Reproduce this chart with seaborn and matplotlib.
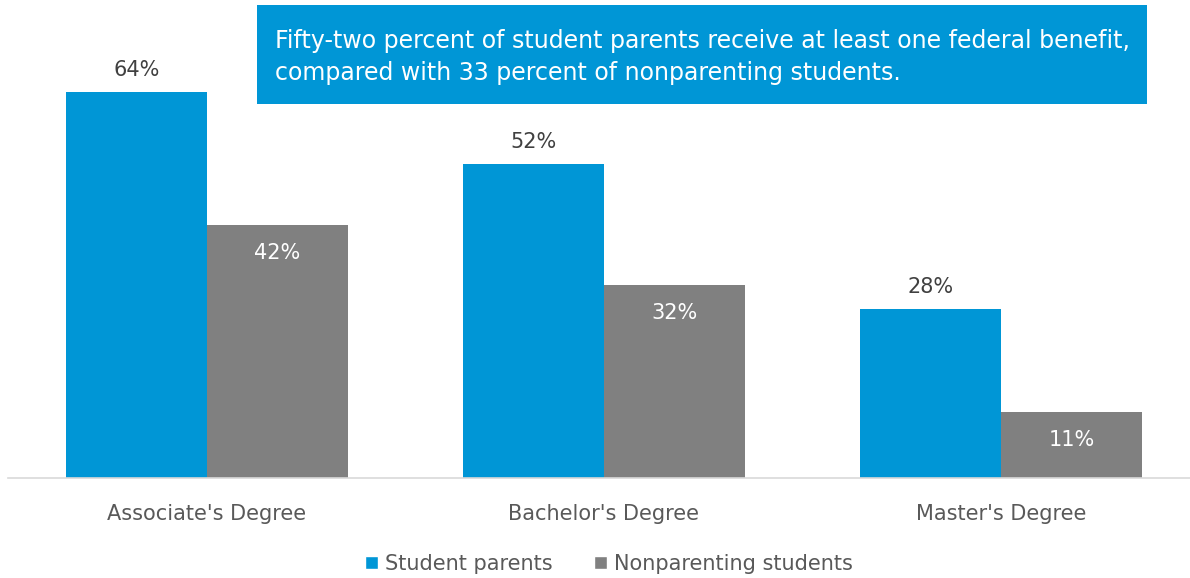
import matplotlib
matplotlib.use("Agg")
import matplotlib.pyplot as plt
import seaborn as sns
import pandas as pd
from matplotlib.patches import Patch

categories = ["Associate's Degree", "Bachelor's Degree", "Master's Degree"]
series_names = ["Student parents", "Nonparenting students"]
student_parents = [64, 52, 28]
nonparenting = [42, 32, 11]
title_text = ("Fifty-two percent of student parents receive at least one federal benefit,\n"
              "compared with 33 percent of nonparenting students.")

BLUE = "#0096D6"
GRAY = "#808080"
TXT = "#595959"

sns.set_theme(style="white")
plt.rcParams['font.family'] = ['DejaVu Sans']

df = pd.DataFrame({
    "Degree": categories * 2,
    "Series": [series_names[0]] * 3 + [series_names[1]] * 3,
    "Value": student_parents + nonparenting,
})

W, H = 1190, 578
fig = plt.figure(figsize=(W / 100, H / 100), dpi=100)
ax_left, ax_right = 8 / W, 1190 / W
ax_bottom = (H - 478) / H
ax_top = (H - 20) / H
ax = fig.add_axes([ax_left, ax_bottom, ax_right - ax_left, ax_top - ax_bottom])

sns.barplot(data=df, x="Degree", y="Value", hue="Series", palette=[BLUE, GRAY],
            width=0.71, ax=ax, legend=False, saturation=1, linewidth=0)

ax.set_xlim(-0.501, (1190 - 207) / 397)
ax.set_ylim(0, 458 / 6.03)
ax.set_xlabel("")
ax.set_ylabel("")
ax.set_yticks([])
for s in ["top", "right", "left"]:
    ax.spines[s].set_visible(False)
ax.spines["bottom"].set_color("#D9D9D9")
ax.spines["bottom"].set_linewidth(1.2)
ax.tick_params(axis="x", length=0, pad=19, labelsize=15, labelcolor=TXT)

# value labels
for i, container in enumerate(ax.containers):
    for bar, v in zip(container, (student_parents, nonparenting)[i]):
        cx = bar.get_x() + bar.get_width() / 2
        if i == 0:
            ax.annotate(f"{v}%", (cx, v), xytext=(0, 12), textcoords="offset pixels",
                        ha="center", va="bottom", fontsize=15, color="#404040")
        else:
            ax.annotate(f"{v}%", (cx, v), xytext=(0, -18), textcoords="offset pixels",
                        ha="center", va="top", fontsize=15, color="white")

# callout box
fig.patches.append(plt.Rectangle((257 / W, 1 - 104 / H), (1147 - 257) / W, 99 / H,
                                 transform=fig.transFigure, facecolor=BLUE,
                                 edgecolor="none", zorder=5))
fig.text(275 / W, 1 - 57 / H, title_text, ha="left", va="center", fontsize=17,
         color="white", linespacing=1.42, zorder=6)

handles = [Patch(facecolor=BLUE), Patch(facecolor=GRAY)]
fig.legend(handles, series_names, loc="center", bbox_to_anchor=(609 / W, 1 - 564 / H),
           ncol=2, frameon=False, fontsize=15, labelcolor=TXT, handlelength=0.6,
           handleheight=0.6, handletextpad=0.35, columnspacing=2.0)

fig.savefig("out.png", dpi=100)
